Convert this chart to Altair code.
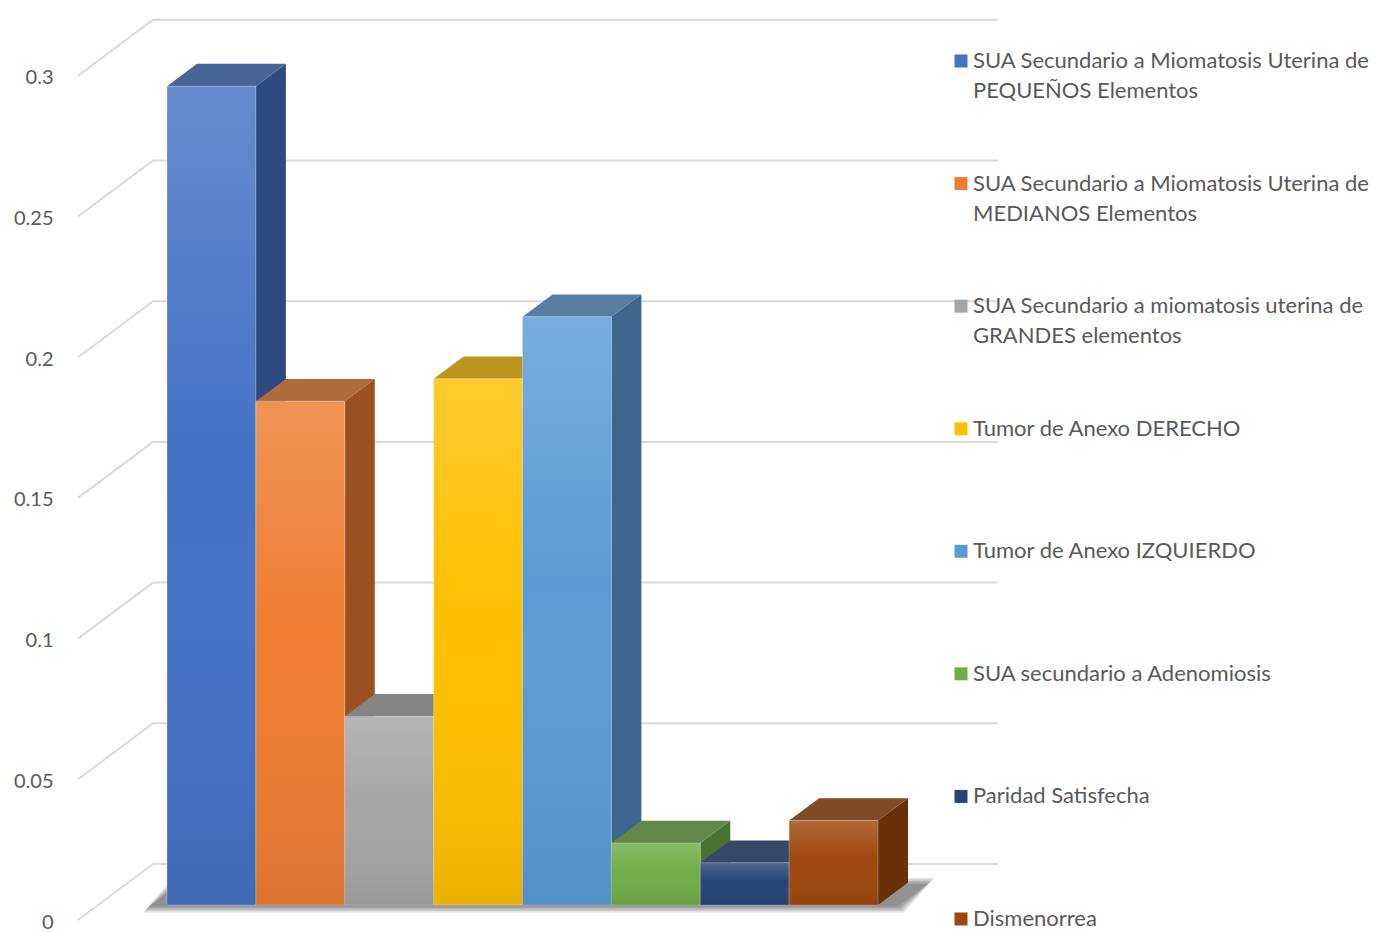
import textwrap
import altair as alt
import pandas as pd

# ---------------- data ----------------
categories = [
    "SUA Secundario a Miomatosis Uterina de PEQUEÑOS Elementos",
    "SUA Secundario a Miomatosis Uterina de MEDIANOS Elementos",
    "SUA Secundario a miomatosis uterina de GRANDES elementos",
    "Tumor de Anexo DERECHO",
    "Tumor de Anexo IZQUIERDO",
    "SUA secundario a Adenomiosis",
    "Paridad Satisfecha",
    "Dismenorrea",
]
values = [0.291, 0.179, 0.067, 0.187, 0.209, 0.022, 0.015, 0.030]
tick_values = [0, 0.05, 0.1, 0.15, 0.2, 0.25, 0.3]
palette = ["#4472C4", "#ED7D31", "#A5A5A5", "#FFC000",
           "#5B9BD5", "#70AD47", "#264478", "#9E480E"]

# ---------------- style / layout ----------------
FONT = "Lato"
TEXT_COLOR = "#595959"
GRID_COLOR = "#D9D9D9"

PX = 2814.0                       # pixels per 1.0 of value
PLOT_LEFT, PLOT_TOP, W, H = 70, 8, 1300, 916
Y_ZERO = 920                      # page y of value 0 on the front plane
WALL_DX, WALL_DY = 75.0, 56.0 / PX
WALL_FRONT_X, WALL_BACK_X0, WALL_BACK_X1 = 78.0, 153.0, 998.0
BAR_LEFT, BAR_W = 167.0, 88.875
BAR_T0, BAR_DEPTH = 15.0 / 56.0, 0.4


def shade(hexcol, f, add=0):
    h = hexcol.lstrip("#")
    rgb = [int(h[i:i + 2], 16) for i in (0, 2, 4)]
    out = [max(0, min(255, int(round(c * f + add)))) for c in rgb]
    return "#" + "".join(f"{c:02x}" for c in out)


def para(key, xa, xb, y, dx, dy, extra):
    rows = [(xa, y, y), (xa + dx, y, y + dy), (xb, y, y + dy), (xb + dx, y + dy, y + dy)]
    return [dict(k=key, x=x, lo=lo, hi=hi, **extra) for x, lo, hi in rows]


xs = alt.Scale(domain=[PLOT_LEFT, PLOT_LEFT + W], nice=False, zero=False)
YDOM = [(Y_ZERO - (PLOT_TOP + H)) / PX, (Y_ZERO - PLOT_TOP) / PX]


def ys():
    return alt.Scale(domain=YDOM, nice=False, zero=False)


# ---------------- tables ----------------
grid = pd.DataFrame({"v": tick_values})
grid["fx"] = WALL_FRONT_X
grid["bx0"] = WALL_BACK_X0
grid["bx1"] = WALL_BACK_X1
grid["vb"] = grid["v"] + WALL_DY

bdx = BAR_DEPTH * WALL_DX
bdy = BAR_DEPTH * WALL_DY
base_f = BAR_T0 * WALL_DY

fronts, sides, tops = [], [], []
for i, (c, v, col) in enumerate(zip(categories, values, palette)):
    xl = BAR_LEFT + i * BAR_W
    xr = xl + BAR_W
    top_f = base_f + v
    fronts.append(dict(k=c, x=xl, x2=xr, y=base_f, y2=top_f, fill=col))
    sc = shade(col, 0.66)
    sides.append(dict(k=c, x=xr, lo=base_f, hi=top_f, fill=sc))
    sides.append(dict(k=c, x=xr + bdx, lo=base_f + bdy, hi=top_f + bdy, fill=sc))
    tops += para(c, xl, xr, top_f, bdx, bdy, dict(fill=shade(col, 0.62, 30)))

fronts = pd.DataFrame(fronts)
sides = pd.DataFrame(sides)
tops = pd.DataFrame(tops)

# floor shadow (soft blur approximated by nested translucent parallelograms)
shadow_rows = []
x_first = BAR_LEFT - 18
x_last = BAR_LEFT + len(values) * BAR_W + 20
for j, grow in enumerate([0, 1.5, 3, 4.5, 6]):
    shadow_rows += para(f"s{j}", x_first - grow, x_last + grow,
                        base_f - (1.5 + grow) / PX, bdx, bdy + (2 * grow) / PX,
                        dict(op=0.13))
shadow = pd.DataFrame(shadow_rows)

legend_df = pd.DataFrame({
    "cat": categories,
    "label": ["\n".join(textwrap.wrap(c, width=38)) for c in categories],
    "fill": palette,
})

# ---------------- layers ----------------
X = lambda f: alt.X(f, scale=xs, axis=None)

grid_diag = alt.Chart(grid).mark_rule(color=GRID_COLOR, strokeWidth=2).encode(
    x=X("fx:Q"), x2="bx0:Q",
    y=alt.Y("v:Q", scale=ys(),
            axis=alt.Axis(values=tick_values, format="~g", labelFont=FONT,
                          labelFontSize=20, labelColor=TEXT_COLOR, ticks=False,
                          domain=False, grid=False, labelPadding=17, title=None,
                          labelOffset=2, orient="left")),
    y2="vb:Q",
)
grid_back = alt.Chart(grid).mark_rule(color=GRID_COLOR, strokeWidth=2).encode(
    x=X("bx0:Q"), x2="bx1:Q",
    y=alt.Y("vb:Q", scale=ys(), axis=None),
)
shadow_layer = alt.Chart(shadow).mark_area(orient="vertical", color="#2a2a2a").encode(
    x=X("x:Q"),
    y=alt.Y("lo:Q", scale=ys(), axis=None, stack=None), y2="hi:Q",
    fillOpacity=alt.FillOpacity("op:Q", scale=None),
    detail="k:N",
)
side_layer = alt.Chart(sides).mark_area(orient="vertical").encode(
    x=X("x:Q"),
    y=alt.Y("lo:Q", scale=ys(), axis=None, stack=None), y2="hi:Q",
    fill=alt.Fill("fill:N", scale=None),
    detail="k:N",
)
top_layer = alt.Chart(tops).mark_area(orient="vertical").encode(
    x=X("x:Q"),
    y=alt.Y("lo:Q", scale=ys(), axis=None, stack=None), y2="hi:Q",
    fill=alt.Fill("fill:N", scale=None),
    detail="k:N",
)
front_layer = alt.Chart(fronts).mark_rect(stroke="#ffffff", strokeOpacity=0.25,
                                          strokeWidth=1).encode(
    x=X("x:Q"), x2="x2:Q",
    y=alt.Y("y:Q", scale=ys(), axis=None), y2="y2:Q",
    fill=alt.Fill("fill:N", scale=None),
)
gloss = alt.Chart(fronts).mark_rect(
    fill=alt.Gradient(
        gradient="linear", x1=0, x2=0, y1=0, y2=1,
        stops=[alt.GradientStop(color="rgba(255,255,255,0.18)", offset=0),
               alt.GradientStop(color="rgba(255,255,255,0.0)", offset=0.45),
               alt.GradientStop(color="rgba(0,0,0,0.08)", offset=1)],
    )
).encode(
    x=X("x:Q"), x2="x2:Q",
    y=alt.Y("y:Q", scale=ys(), axis=None), y2="y2:Q",
)

ly = alt.Y("cat:N", scale=alt.Scale(domain=categories, range=[53, 911], padding=0),
           axis=None)
leg_sq = alt.Chart(legend_df).mark_square(size=169, opacity=1).encode(
    x=alt.value(891), y=ly, fill=alt.Fill("fill:N", scale=None),
)
leg_tx = alt.Chart(legend_df).mark_text(
    align="left", baseline="alphabetic", dy=7, lineBreak="\n", lineHeight=30,
    font=FONT, fontSize=22, color=TEXT_COLOR,
).encode(x=alt.value(903), y=ly, text="label:N")

chart = alt.layer(grid_diag, grid_back, shadow_layer, side_layer, top_layer,
                  front_layer, gloss, leg_sq, leg_tx).resolve_scale(
    y="independent").properties(
    width=W, height=H,
    padding={"left": PLOT_LEFT - 8, "top": PLOT_TOP - 8, "right": 0, "bottom": 8},
    autosize=alt.AutoSizeParams(type="none"),
).configure_view(stroke=None)

chart.save("out.html", embed_options={"renderer": "svg", "actions": False})
